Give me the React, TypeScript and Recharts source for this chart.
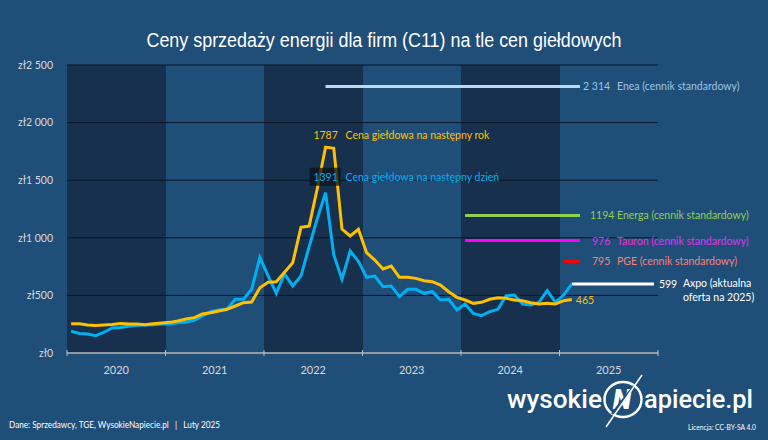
import { ComposedChart, Line, XAxis, YAxis, CartesianGrid, ReferenceDot } from "recharts";

// monthly values, Jan 2020 onward (zł/MWh)
const dayAhead = [
  190, 170, 165, 150, 180, 217, 222, 232, 240, 243, 245, 252,
  252, 262, 270, 284, 321, 359, 373, 382, 466, 466, 553, 830,
  670, 518, 686, 582, 668, 923, 1169, 1391, 851, 640, 885, 795,
  657, 668, 576, 582, 489, 553, 553, 518, 532, 460, 466, 373,
  425, 344, 324, 359, 379, 497, 503, 425, 417, 440, 541, 440,
  503, 599,
];
const yearAhead = [
  254, 254, 243, 239, 243, 248, 257, 252, 252, 246, 254, 260,
  266, 278, 295, 307, 338, 350, 365, 379, 408, 437, 443, 567,
  615, 619, 700, 784, 1091, 1102, 1430, 1787, 1777, 1076, 1016, 1074,
  871, 807, 729, 755, 657, 657, 648, 628, 619, 590, 532, 483,
  460, 431, 440, 466, 480, 475, 460, 454, 437, 425, 431, 425,
  454, 465,
];

const years = ["2020", "2021", "2022", "2023", "2024", "2025"];
const yearTicks = [0, 12, 24, 36, 48, 60, 72];
const yTicks = [0, 500, 1000, 1500, 2000, 2500];
const yTickLabels = ["zł0", "zł500", "zł1 000", "zł1 500", "zł2 000", "zł2 500"];

// vendor offers: value and month range (index from Jan 2020)
const offerKeys = ["enea", "energa", "tauron", "pge", "axpo"];
const offerNames = [
  "Enea (cennik standardowy)",
  "Energa (cennik standardowy)",
  "Tauron (cennik standardowy)",
  "PGE (cennik standardowy)",
  "Axpo (aktualna",
];
const offerValueLabels = ["2 314", "1194", "976", "795", "599"];
const offerValues = [2314, 1194, 976, 795, 599];
const offerStart = [31, 48, 48, 60, 61];
const offerEnd = [62, 62, 62, 62, 71];

const MONTHS = 72;
const data = Array.from({ length: MONTHS }, (_, m) => {
  const row: Record<string, number | null> = {
    x: m + 0.5,
    day: dayAhead[m] ?? null,
    year: yearAhead[m] ?? null,
  };
  offerKeys.forEach((k, i) => {
    row[k] = m >= offerStart[i] && m <= offerEnd[i] ? offerValues[i] : null;
  });
  return row;
});

const FONT = "Lato, 'Open Sans', sans-serif";
const BG = "#1f4e79";
const BAND = "#16304e";
const YELLOW = "#ffc000";
const BLUE = "#00b0f0";
const lineColors = ["#bdd7ee", "#92d050", "#ff00ff", "#ff0000", "#ffffff"];
const labelColors = ["#9dc3e6", "#92d050", "#e62ee6", "#f4837a", "#ffffff"];

const PLOT_W = 591;
const YEAR_PX = PLOT_W / 6;

const YearTick = (props: any) => {
  const { x, y, payload } = props;
  const idx = Math.round(payload.value / 12);
  return (
    <g>
      <line x1={x} x2={x} y1={y - 3} y2={y + 3} stroke="#bfbfbf" strokeWidth={1} />
      {idx < years.length && (
        <text x={x + YEAR_PX / 2} y={y + 21} textAnchor="middle" fill="#d9d9d9" fontSize={11} fontFamily={FONT}>
          {years[idx]}
        </text>
      )}
    </g>
  );
};

const txt = { fontFamily: FONT, fontSize: 10.5 };

function offerLabel(i: number, numDx: number) {
  return (p: any) => (
    <g>
      <text x={p.cx + numDx} y={p.cy + 4} fill={labelColors[i]} {...txt}>{offerValueLabels[i]}</text>
      <text x={p.cx + 37} y={p.cy + 4} fill={labelColors[i]} {...txt}>{offerNames[i]}</text>
    </g>
  );
}

export default function App() {
  return (
    <div style={{ position: "absolute", left: 0, top: 0, width: 768, height: 440, background: BG }}>
      <ComposedChart width={768} height={440} data={data} margin={{ top: 65, right: 110, bottom: 57, left: 7 }}>
        {/* year bands */}
        <CartesianGrid horizontal={false} vertical={true} stroke="none" verticalFill={[BAND, "transparent"]} />
        {/* horizontal gridlines on top of the bands */}
        <CartesianGrid vertical={false} stroke="#0b1625" strokeWidth={1} />
        <XAxis
          type="number"
          dataKey="x"
          domain={[0, MONTHS]}
          ticks={yearTicks}
          height={30}
          tickSize={0}
          tickMargin={0}
          tickLine={false}
          axisLine={{ stroke: "#bfbfbf", strokeWidth: 1.5 }}
          tick={<YearTick />}
          interval={0}
        />
        <YAxis
          type="number"
          domain={[0, 2500]}
          ticks={yTicks}
          width={60}
          axisLine={false}
          tickLine={false}
          tickSize={0}
          tickMargin={14}
          tickFormatter={(v: number) => yTickLabels[yTicks.indexOf(v)]}
          tick={{ fill: "#d9d9d9", fontSize: 10.5, fontFamily: FONT }}
          interval={0}
        />
        {offerKeys.map((k, i) => (
          <Line
            key={k}
            dataKey={k}
            type="linear"
            stroke={lineColors[i]}
            strokeWidth={3}
            dot={false}
            activeDot={false}
            isAnimationActive={false}
          />
        ))}
        <Line dataKey="day" type="linear" stroke={BLUE} strokeWidth={3} dot={false} activeDot={false} isAnimationActive={false} />
        <Line dataKey="year" type="linear" stroke={YELLOW} strokeWidth={3} dot={false} activeDot={false} isAnimationActive={false} />

        <ReferenceDot x={62.5} y={offerValues[0]} r={0} ifOverflow="visible" shape={offerLabel(0, 3)} />
        <ReferenceDot x={62.5} y={offerValues[1]} r={0} ifOverflow="visible" shape={offerLabel(1, 10)} />
        <ReferenceDot x={62.5} y={offerValues[2]} r={0} ifOverflow="visible" shape={offerLabel(2, 12)} />
        <ReferenceDot x={62.5} y={offerValues[3]} r={0} ifOverflow="visible" shape={offerLabel(3, 12)} />
        <ReferenceDot
          x={71.5}
          y={offerValues[4]}
          r={0}
          ifOverflow="visible"
          shape={(p: any) => (
            <g>
              <text x={p.cx + 5} y={p.cy + 4} fill="#fff" {...txt}>{offerValueLabels[4]}</text>
              <text x={p.cx + 29} y={p.cy + 3} fill="#fff" {...txt}>{offerNames[4]}</text>
              <text x={p.cx + 29} y={p.cy + 17} fill="#fff" {...txt}>oferta na 2025)</text>
            </g>
          )}
        />
        <ReferenceDot
          x={61.5}
          y={yearAhead[61]}
          r={0}
          ifOverflow="visible"
          shape={(p: any) => (
            <text x={p.cx + 4} y={p.cy + 5} fill={YELLOW} {...txt}>{yearAhead[61]}</text>
          )}
        />
        <ReferenceDot
          x={31.5}
          y={yearAhead[31]}
          r={0}
          ifOverflow="visible"
          shape={(p: any) => (
            <g>
              <text x={p.cx} y={p.cy - 8} textAnchor="middle" fill={YELLOW} {...txt}>{yearAhead[31]}</text>
              <text x={p.cx + 20} y={p.cy - 8} fill={YELLOW} {...txt}>Cena giełdowa na następny rok</text>
            </g>
          )}
        />
        <ReferenceDot
          x={31.5}
          y={dayAhead[31]}
          r={0}
          ifOverflow="visible"
          shape={(p: any) => (
            <g>
              <rect x={p.cx - 16} y={p.cy - 25} width={31} height={18} fill="#0a111b" fillOpacity={0.75} />
              <text x={p.cx} y={p.cy - 12} textAnchor="middle" fill={BLUE} {...txt}>{dayAhead[31]}</text>
              <text x={p.cx + 20} y={p.cy - 12} fill={BLUE} {...txt}>Cena giełdowa na następny dzień</text>
            </g>
          )}
        />
      </ComposedChart>

      <svg width={768} height={440} style={{ position: "absolute", left: 0, top: 0, pointerEvents: "none" }}>
        <text x={384} y={46.5} textAnchor="middle" fill="#fff" fontSize={19.5} fontFamily="'Liberation Sans', Arial, sans-serif" textLength={475} lengthAdjust="spacingAndGlyphs">
          Ceny sprzedaży energii dla firm (C11) na tle cen giełdowych
        </text>
        <text x={9} y={428} fill="#fff" fontSize={8.5} fontFamily={FONT} textLength={211} lengthAdjust="spacingAndGlyphs" style={{ whiteSpace: "pre" }}>
          {"Dane: Sprzedawcy, TGE, WysokieNapiecie.pl   |   Luty 2025"}
        </text>
        <text x={688} y={429.5} fill="#fff" fontSize={7.5} fontFamily={FONT} textLength={68} lengthAdjust="spacingAndGlyphs">
          Licencja: CC-BY-SA 4.0
        </text>
        <text x={507} y={407.5} fill="#fff" fontSize={25} fontWeight={500} fontFamily="Roboto, sans-serif" textLength={95} lengthAdjust="spacingAndGlyphs">
          wysokie
        </text>
        <text x={644} y={407.5} fill="#fff" fontSize={25} fontWeight={500} fontFamily="Roboto, sans-serif" textLength={109} lengthAdjust="spacingAndGlyphs">
          apiecie.pl
        </text>
        <ellipse cx={623} cy={399.5} rx={18.5} ry={17.5} fill="none" stroke="#fff" strokeWidth={2.5} />
        <text x={622} y={409} textAnchor="middle" fill="#fff" fontSize={27} fontWeight={900} fontStyle="italic" fontFamily="Roboto, sans-serif">
          N
        </text>
        <line x1={634} y1={386} x2={612} y2={414} stroke={BG} strokeWidth={2.5} />
        <line x1={642} y1={375} x2={606} y2={427} stroke="#fff" strokeWidth={1.5} />
      </svg>
    </div>
  );
}
